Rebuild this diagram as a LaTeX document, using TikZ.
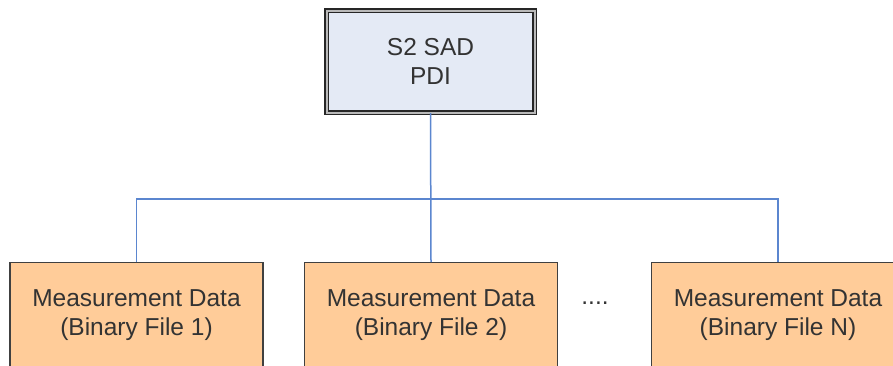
\documentclass[tikz,border=0pt]{standalone}
\usepackage{fontspec}
\setmainfont{Liberation Sans}
\usetikzlibrary{positioning}
\definecolor{pdiblue}{HTML}{E4EAF5}
\definecolor{binorange}{HTML}{FFCC99}
\definecolor{linkblue}{HTML}{5B86CF}
\definecolor{txtgray}{HTML}{333333}

\begin{document}
\begin{tikzpicture}[x=1pt,y=-1pt,
 every node/.style={font=\fontsize{24.5}{29}\selectfont,text=txtgray},
 top/.style={rectangle,draw=black!85,double=gray!55,line width=1.2pt,double distance=2pt,fill=pdiblue,minimum width=208pt,minimum height=102pt,align=center},
 bin/.style={rectangle,draw=black!75,line width=1.3pt,fill=binorange,minimum width=253pt,minimum height=140pt,anchor=north},
 link/.style={linkblue,line width=1.5pt}]
\useasboundingbox (0,0) rectangle (893,365);
\clip (0,0) rectangle (893,365);
\node[top] (pdi) at (430.5,61.5) {S2 SAD\\PDI};
\node[bin] (bin1) at (136.5,262) {};
\node[bin] (bin2) at (431,262) {};
\node[bin] (bin3) at (778,262) {};
\node[align=center] (txt1) at (136.5,315) {Measurement Data\\(Binary File 1)};
\node[align=center] (txt2) at (431,315) {Measurement Data\\(Binary File 2)};
\node[align=center] (txt3) at (778,315) {Measurement Data\\(Binary File N)};
\node (dots) at (595,303) {....};
\coordinate (bus) at (0,199);
\draw[link] (pdi.south) -- (bin2.north);
\draw[link] (bin1.north) |- (bin3.north |- bus) -- (bin3.north);
\end{tikzpicture}
\end{document}
